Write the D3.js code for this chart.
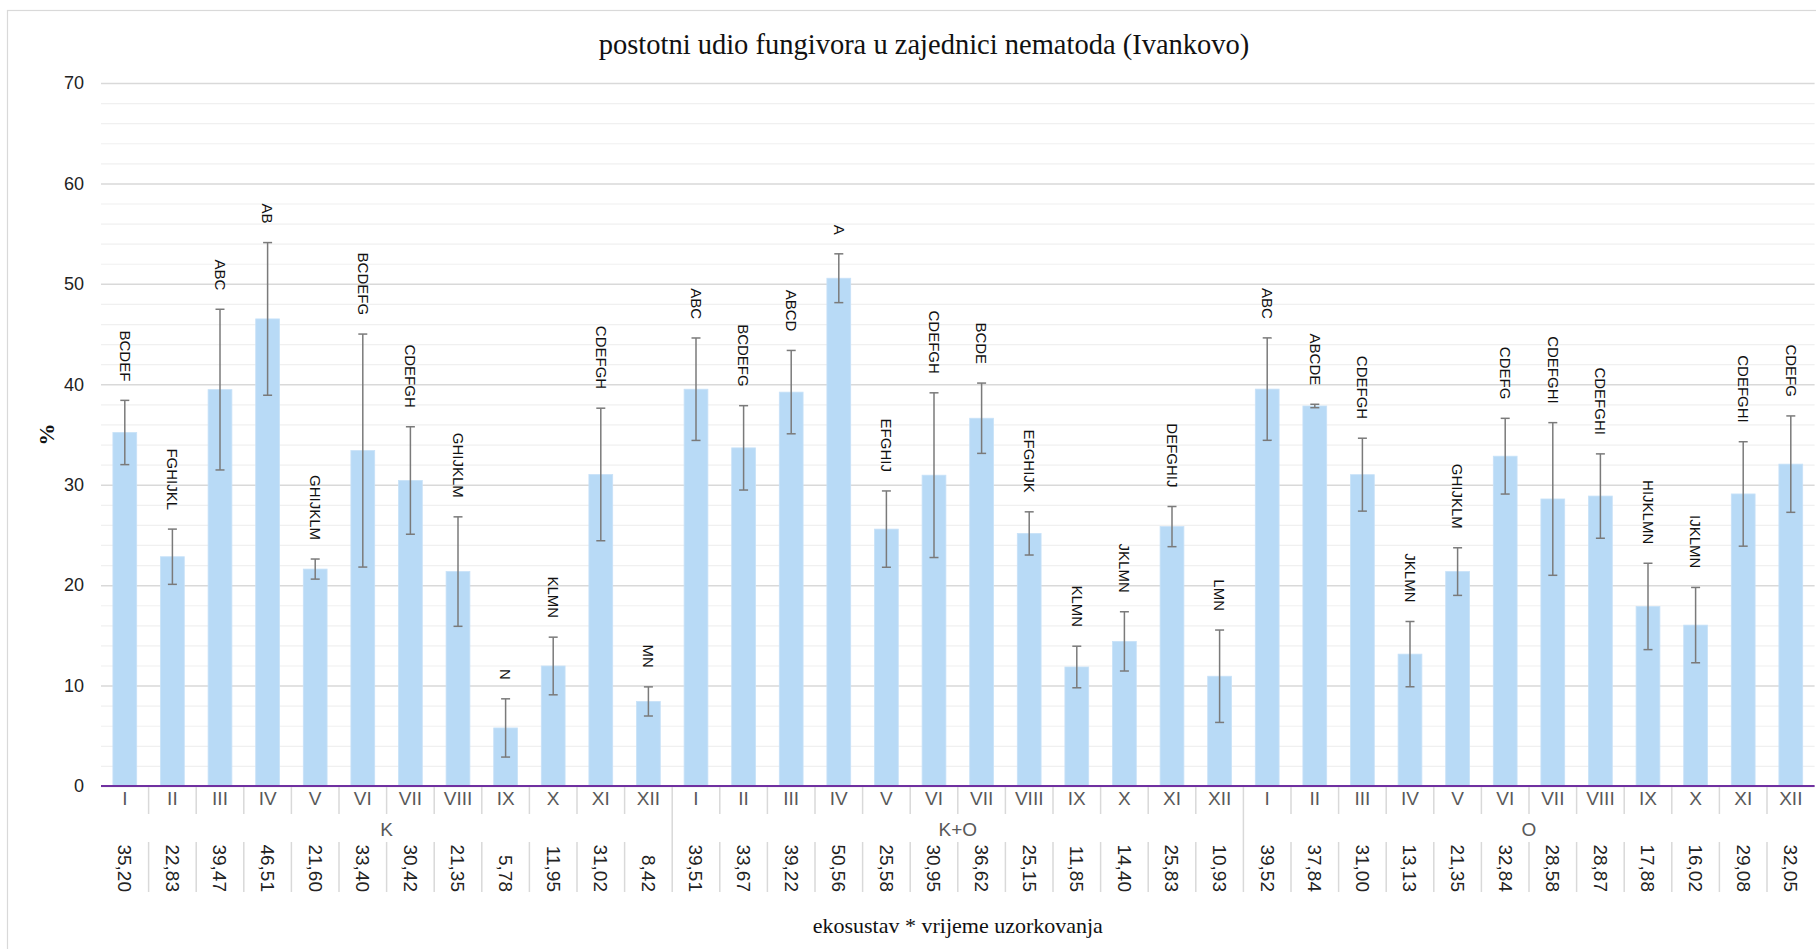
<!DOCTYPE html>
<html>
<head>
<meta charset="utf-8">
<script src="https://cdn.jsdelivr.net/npm/d3@7"></script>
<style>
  html, body { margin: 0; padding: 0; background: #fff; overflow: hidden; }
  svg { display: block; }
</style>
</head>
<body>
<svg id="chart" width="1816" height="949"></svg>
<script>
// ---------- data ----------
const months = ["I","II","III","IV","V","VI","VII","VIII","IX","X","XI","XII"];
const groups = ["K","K+O","O"];
const meanK  = [35.20,22.83,39.47,46.51,21.60,33.40,30.42,21.35,5.78,11.95,31.02,8.42];
const meanKO = [39.51,33.67,39.22,50.56,25.58,30.95,36.62,25.15,11.85,14.40,25.83,10.93];
const meanO  = [39.52,37.84,31.00,13.13,21.35,32.84,28.58,28.87,17.88,16.02,29.08,32.05];
const errK   = [3.2,2.75,8.0,7.6,1.0,11.6,5.35,5.45,2.9,2.87,6.6,1.45];
const errKO  = [5.1,4.2,4.15,2.43,3.8,8.2,3.5,2.15,2.07,2.95,2.0,4.6];
const errO   = [5.1,0.17,3.63,3.25,2.37,3.77,7.6,4.2,4.3,3.75,5.2,4.8];
const lettersK  = ["BCDEF","FGHIJKL","ABC","AB","GHIJKLM","BCDEFG","CDEFGH","GHIJKLM","N","KLMN","CDEFGH","MN"];
const lettersKO = ["ABC","BCDEFG","ABCD","A","EFGHIJ","CDEFGH","BCDE","EFGHIJK","KLMN","JKLMN","DEFGHIJ","LMN"];
const lettersO  = ["ABC","ABCDE","CDEFGH","JKLMN","GHIJKLM","CDEFG","CDEFGHI","CDEFGHI","HIJKLMN","IJKLMN","CDEFGHI","CDEFG"];
const yTicks = [0,10,20,30,40,50,60,70];
const yMinorTicks = d3.range(0, 71, 2);
const titleText = "postotni udio fungivora u zajednici nematoda (Ivankovo)";
const xTitleText = "ekosustav * vrijeme uzorkovanja";
const yTitleText = "%";

// ---------- build table ----------
const means = [meanK, meanKO, meanO];
const errs = [errK, errKO, errO];
const letters = [lettersK, lettersKO, lettersO];
const rows = groups.flatMap((g, gi) => months.map((m, mi) => ({
  key: g + "|" + m, group: g, gi, month: m, mi,
  mean: means[gi][mi], err: errs[gi][mi], letter: letters[gi][mi]
})));

const locale = d3.formatLocale({decimal: ",", thousands: ".", grouping: [3], currency: ["", ""]});
const fmt = locale.format(".2f");

// ---------- layout ----------
const svg = d3.select("#chart");
const pL = 101, pR = 1814.6, pT = 83, pB = 786;
const sansFont = "'Liberation Sans Narrow', 'Arial Narrow', 'Liberation Sans', sans-serif";
const serifFont = "'Liberation Serif', 'Times New Roman', serif";
const gray = "#595959";

svg.append("rect").attr("x", 0).attr("y", 0).attr("width", 1816).attr("height", 949).attr("fill", "#fff");
svg.append("rect").attr("x", 7.5).attr("y", 10.5).attr("width", 1840).attr("height", 960)
  .attr("fill", "none").attr("stroke", "#d9d9d9").attr("stroke-width", 1.2);

const x = d3.scaleBand().domain(rows.map(d => d.key)).range([pL, pR])
  .paddingInner(0.5).paddingOuter(0.25);
const y = d3.scaleLinear().domain([0, 70]).range([pB, pT]);
const step = x.step(), bw = x.bandwidth();
const cx = k => x(k) + bw / 2;
const slotStart = k => cx(k) - step / 2;

// minor grid
svg.append("g").attr("transform", `translate(${pL},0)`)
  .call(d3.axisLeft(y).tickValues(yMinorTicks.filter(v => v % 10 !== 0)).tickSize(-(pR - pL)).tickFormat(""))
  .call(g => g.select(".domain").remove())
  .call(g => g.selectAll("line").attr("stroke", "#f0f0f0").attr("stroke-width", 1.2));
// major grid
svg.append("g").attr("transform", `translate(${pL},0)`)
  .call(d3.axisLeft(y).tickValues(yTicks).tickSize(-(pR - pL)).tickFormat(""))
  .call(g => g.select(".domain").remove())
  .call(g => g.selectAll("line").attr("stroke", "#d9d9d9").attr("stroke-width", 1.5));
// y tick labels
svg.append("g").attr("transform", `translate(${pL},0)`)
  .call(d3.axisLeft(y).tickValues(yTicks).tickSize(0).tickPadding(17))
  .call(g => g.select(".domain").remove())
  .call(g => g.selectAll("text").attr("fill", "#222").attr("font-size", 18).attr("font-family", sansFont));

// bars
svg.append("g").selectAll("rect").data(rows).join("rect")
  .attr("x", d => x(d.key)).attr("width", bw)
  .attr("y", d => y(d.mean)).attr("height", d => y(0) - y(d.mean))
  .attr("fill", "#b8daf6").attr("stroke", "#c8e2f8").attr("stroke-width", 0.8);

// error bars
const eb = svg.append("g").attr("stroke", "#7a7a7a").attr("stroke-width", 1.5).attr("fill", "none");
eb.selectAll("line.v").data(rows).join("line").attr("class", "v")
  .attr("x1", d => cx(d.key)).attr("x2", d => cx(d.key))
  .attr("y1", d => y(d.mean + d.err)).attr("y2", d => y(d.mean - d.err));
eb.selectAll("line.t").data(rows).join("line").attr("class", "t")
  .attr("x1", d => cx(d.key) - 4.5).attr("x2", d => cx(d.key) + 4.5)
  .attr("y1", d => y(d.mean + d.err)).attr("y2", d => y(d.mean + d.err));
eb.selectAll("line.b").data(rows).join("line").attr("class", "b")
  .attr("x1", d => cx(d.key) - 4.5).attr("x2", d => cx(d.key) + 4.5)
  .attr("y1", d => y(d.mean - d.err)).attr("y2", d => y(d.mean - d.err));

// letter labels
svg.append("g").selectAll("text").data(rows).join("text")
  .attr("transform", d => `translate(${cx(d.key)},${y(d.mean + d.err) - 19}) rotate(90)`)
  .attr("text-anchor", "end").attr("dy", "0.35em")
  .attr("font-family", sansFont).attr("font-size", 15).attr("fill", "#111")
  .text(d => d.letter);

// x axis line (purple)
svg.append("line").attr("x1", pL).attr("x2", pR).attr("y1", y(0)).attr("y2", y(0))
  .attr("stroke", "#7030a0").attr("stroke-width", 2);

// category separators
const sep = svg.append("g").attr("stroke", "#d9d9d9").attr("stroke-width", 1.5);
rows.forEach((d, i) => {
  if (i === 0) return;
  const xs = slotStart(d.key);
  if (d.mi === 0) {
    sep.append("line").attr("x1", xs).attr("x2", xs).attr("y1", 787).attr("y2", 892);
  } else {
    sep.append("line").attr("x1", xs).attr("x2", xs).attr("y1", 787).attr("y2", 814);
    sep.append("line").attr("x1", xs).attr("x2", xs).attr("y1", 842).attr("y2", 892);
  }
});

// month labels
svg.append("g").attr("transform", `translate(0,${y(0)})`)
  .call(d3.axisBottom(x).tickSize(0).tickPadding(6).tickFormat(k => k.split("|")[1]))
  .call(g => g.select(".domain").remove())
  .call(g => g.selectAll("text").attr("fill", gray).attr("font-size", 19).attr("font-family", sansFont));

// group labels
svg.append("g").selectAll("text").data(groups).join("text")
  .attr("x", g => {
    const ks = rows.filter(r => r.group === g).map(r => r.key);
    return (slotStart(ks[0]) + slotStart(ks[ks.length - 1]) + step) / 2;
  })
  .attr("y", 829).attr("dy", "0.35em").attr("text-anchor", "middle")
  .attr("fill", gray).attr("font-size", 19).attr("font-family", sansFont)
  .text(g => g);

// value labels
svg.append("g").selectAll("text").data(rows).join("text")
  .attr("transform", d => `translate(${cx(d.key)},892) rotate(90)`)
  .attr("text-anchor", "end").attr("dy", "0.35em")
  .attr("fill", "#222").attr("font-size", 19).attr("font-family", sansFont)
  .text(d => fmt(d.mean));

// titles
svg.append("text").attr("x", 924).attr("y", 44).attr("dy", "0.35em").attr("text-anchor", "middle")
  .attr("font-family", serifFont).attr("font-size", 28.5).attr("fill", "#111").text(titleText);
svg.append("text").attr("x", (pL + pR) / 2).attr("y", 925).attr("dy", "0.35em").attr("text-anchor", "middle")
  .attr("font-family", serifFont).attr("font-size", 22).attr("fill", "#111").text(xTitleText);
svg.append("text").attr("transform", `translate(46,${(pT + pB) / 2}) rotate(-90)`)
  .attr("dy", "0.35em").attr("text-anchor", "middle")
  .attr("font-family", serifFont).attr("font-weight", "bold").attr("font-size", 22).attr("fill", "#111")
  .text(yTitleText);
</script>
</body>
</html>
